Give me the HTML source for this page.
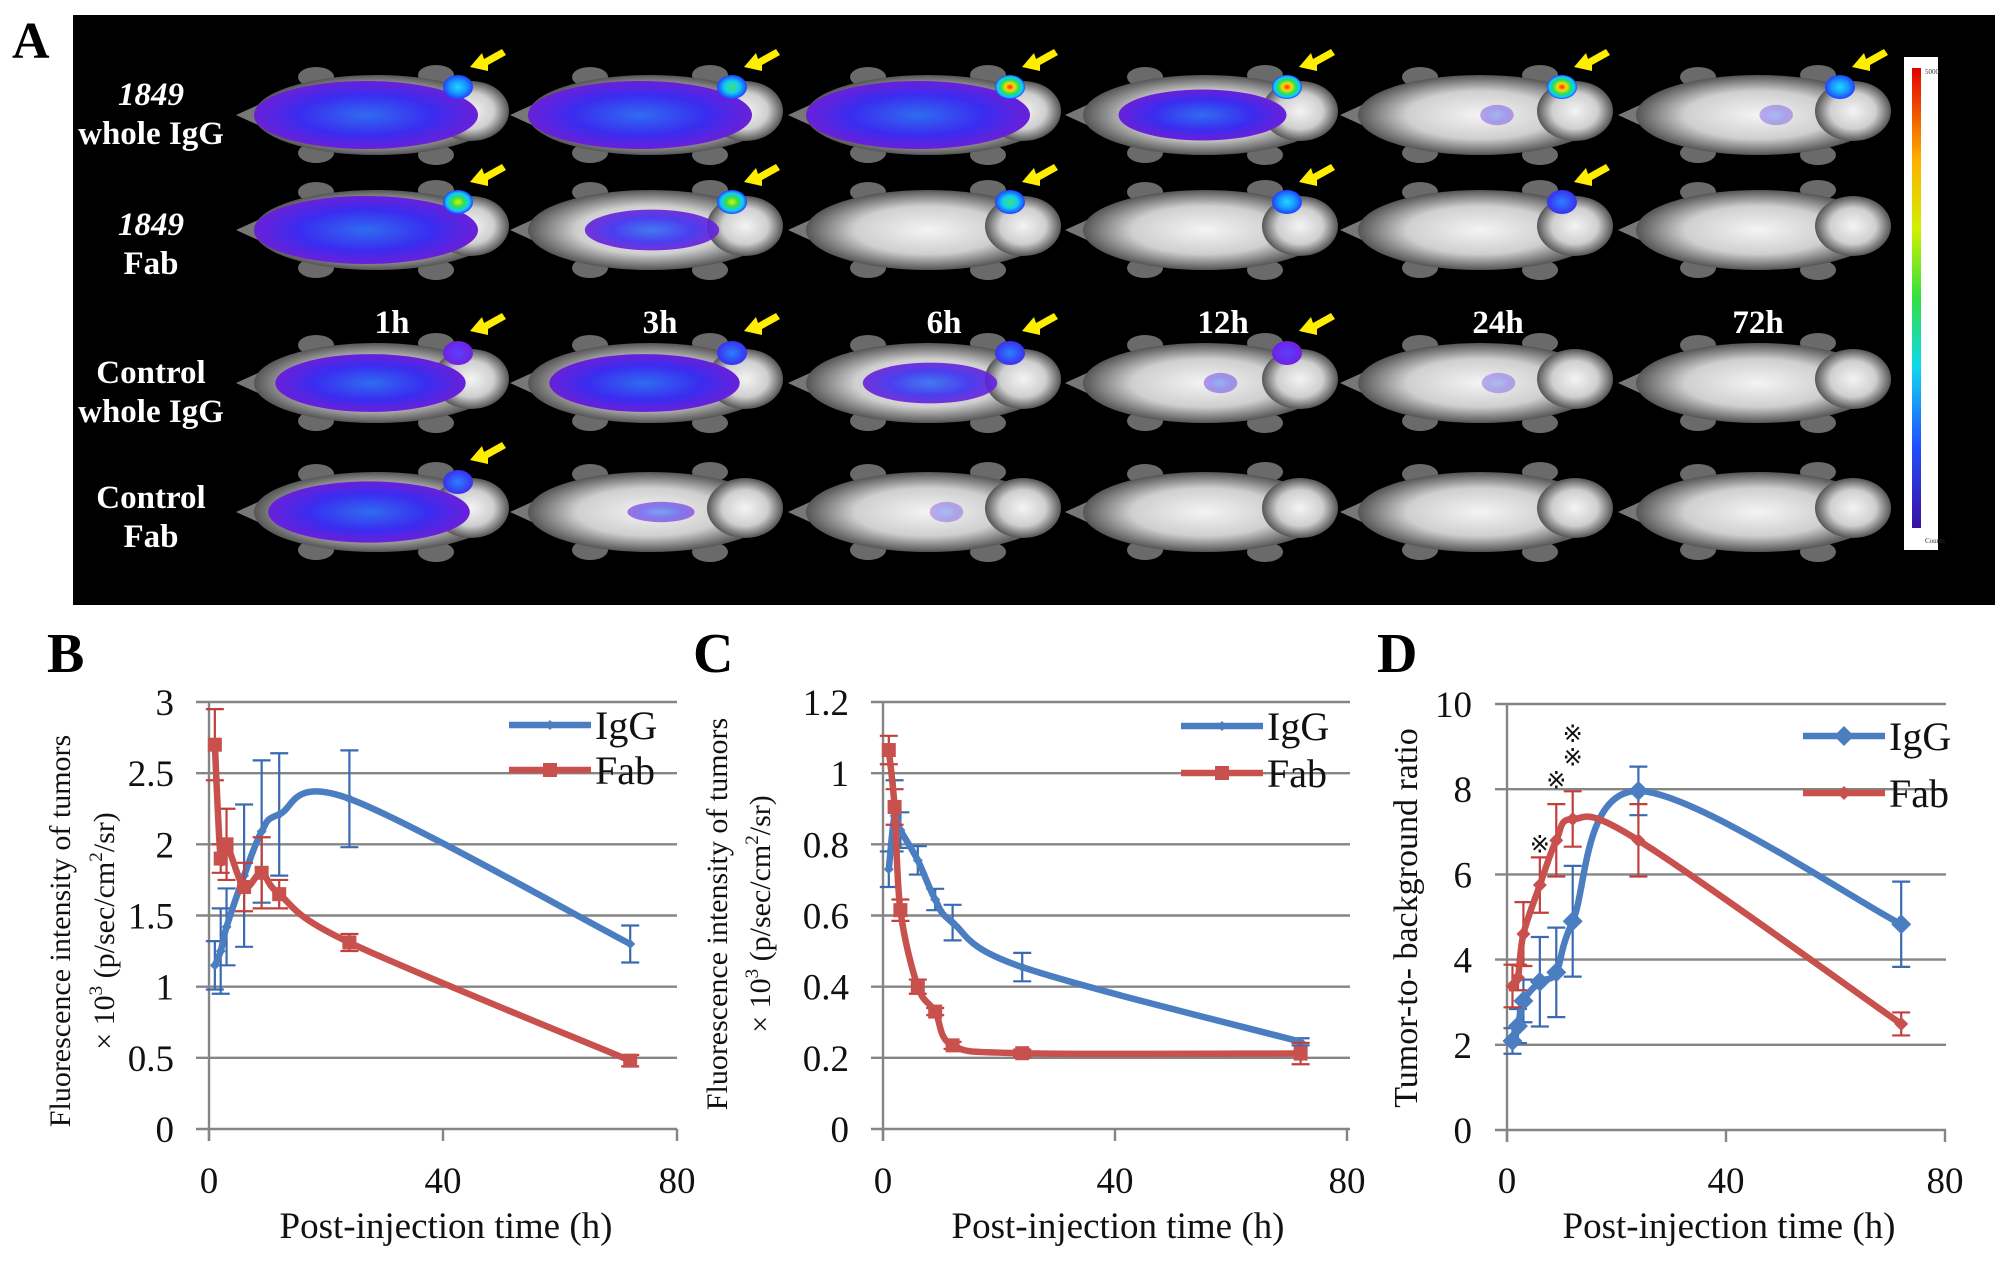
<!DOCTYPE html>
<html><head><meta charset="utf-8"><style>
html,body{margin:0;padding:0;background:#fff;}
svg{display:block;}
text{font-family:"Liberation Serif",serif;}
</style></head><body>
<svg id="fig" xmlns="http://www.w3.org/2000/svg" width="2008" height="1265" viewBox="0 0 2008 1265">
<defs>
<radialGradient id="bodyG" cx="50%" cy="50%" r="50%"><stop offset="0" stop-color="#f4f4f4"/><stop offset="0.6" stop-color="#cfcfcf"/><stop offset="1" stop-color="#555"/></radialGradient>
<radialGradient id="blueG" cx="50%" cy="50%" r="50%"><stop offset="0" stop-color="#2f6cf0"/><stop offset="0.6" stop-color="#3a2cf0"/><stop offset="1" stop-color="#6a20d8"/></radialGradient>
<radialGradient id="hotRed" cx="50%" cy="50%" r="50%"><stop offset="0" stop-color="#ff2000"/><stop offset="0.3" stop-color="#ffd800"/><stop offset="0.6" stop-color="#20e060"/><stop offset="0.85" stop-color="#10c8ff"/><stop offset="1" stop-color="#2040ff"/></radialGradient>
<radialGradient id="hotYel" cx="50%" cy="50%" r="50%"><stop offset="0" stop-color="#e8f000"/><stop offset="0.4" stop-color="#30e050"/><stop offset="0.75" stop-color="#10c8ff"/><stop offset="1" stop-color="#2040ff"/></radialGradient>
<radialGradient id="hotGrn" cx="50%" cy="50%" r="50%"><stop offset="0" stop-color="#40e070"/><stop offset="0.5" stop-color="#10d0f0"/><stop offset="1" stop-color="#2040ff"/></radialGradient>
<radialGradient id="hotCyan" cx="50%" cy="50%" r="50%"><stop offset="0" stop-color="#20d8ff"/><stop offset="0.6" stop-color="#1890ff"/><stop offset="1" stop-color="#2040ff"/></radialGradient>
<radialGradient id="hotBlue" cx="50%" cy="50%" r="50%"><stop offset="0" stop-color="#2a80ff"/><stop offset="1" stop-color="#3a30f0"/></radialGradient>
<radialGradient id="hotPurp" cx="50%" cy="50%" r="50%"><stop offset="0" stop-color="#5a40ff"/><stop offset="1" stop-color="#7020e0"/></radialGradient>
<linearGradient id="cbar" x1="0" y1="0" x2="0" y2="1"><stop offset="0" stop-color="#e00000"/><stop offset="0.2" stop-color="#ffb000"/><stop offset="0.35" stop-color="#d0f000"/><stop offset="0.5" stop-color="#30e040"/><stop offset="0.65" stop-color="#10d8f0"/><stop offset="0.82" stop-color="#2050ff"/><stop offset="1" stop-color="#3a10a0"/></linearGradient>
</defs>
<g id="panelA">
<rect x="73" y="15" width="1922" height="590" fill="#000"/>
<g id="mice"></g>
<rect x="1904" y="57" width="34" height="493" fill="#fff"/>
<rect x="1912" y="68" width="9" height="460" fill="url(#cbar)"/>
<text x="1925" y="74" font-size="7" fill="#333">5000</text>
<text x="1925" y="543" font-size="7" fill="#333">Counts</text>
<text x="12" y="58" font-size="52" font-weight="bold">A</text>
<g fill="#fff" font-weight="bold" font-size="33" text-anchor="middle">
<text x="151" y="105" font-style="italic">1849</text>
<text x="151" y="144">whole IgG</text>
<text x="151" y="235" font-style="italic">1849</text>
<text x="151" y="274">Fab</text>
<text x="151" y="383">Control</text>
<text x="151" y="422">whole IgG</text>
<text x="151" y="508">Control</text>
<text x="151" y="547">Fab</text>
<text x="392" y="333">1h</text>
<text x="660" y="333">3h</text>
<text x="944" y="333">6h</text>
<text x="1223" y="333">12h</text>
<text x="1498" y="333">24h</text>
<text x="1758" y="333">72h</text>
</g>
</g>
<g id="charts"></g>
</svg>
<script>
// ---- chart data ----
const times = [1, 2, 3, 6, 9, 12, 24, 72];
const xTicks = [0, 40, 80];
const bYTicks = [0, 0.5, 1, 1.5, 2, 2.5, 3];
const bYTickLabels = ["0", "0.5", "1", "1.5", "2", "2.5", "3"];
const bIgG = [1.15, 1.25, 1.42, 1.78, 2.09, 2.21, 2.32, 1.30];
const bIgGErr = [0.17, 0.30, 0.27, 0.50, 0.50, 0.43, 0.34, 0.13];
const bFab = [2.70, 1.90, 2.00, 1.70, 1.80, 1.65, 1.31, 0.48];
const bFabErr = [0.25, 0.10, 0.25, 0.17, 0.25, 0.10, 0.06, 0.04];
const cYTicks = [0, 0.2, 0.4, 0.6, 0.8, 1, 1.2];
const cYTickLabels = ["0", "0.2", "0.4", "0.6", "0.8", "1", "1.2"];
const cIgG = [0.73, 0.88, 0.84, 0.755, 0.645, 0.58, 0.455, 0.245];
const cIgGErr = [0.05, 0.10, 0.05, 0.04, 0.03, 0.05, 0.04, 0.01];
const cFab = [1.065, 0.905, 0.615, 0.40, 0.33, 0.235, 0.213, 0.212];
const cFabErr = [0.04, 0.05, 0.03, 0.02, 0.01, 0.01, 0.01, 0.03];
const dYTicks = [0, 2, 4, 6, 8, 10];
const dYTickLabels = ["0", "2", "4", "6", "8", "10"];
const dIgG = [2.09, 2.44, 3.03, 3.48, 3.70, 4.90, 7.96, 4.83];
const dIgGErr = [0.30, 0.40, 0.50, 1.05, 1.05, 1.30, 0.57, 1.00];
const dFab = [3.38, 3.58, 4.60, 5.75, 6.80, 7.30, 6.80, 2.49];
const dFabErr = [0.50, 0.30, 0.75, 0.65, 0.85, 0.65, 0.85, 0.27];
const seriesNames = ["IgG", "Fab"];
const dStarTimes = [6, 9, 12, 12];
const dStarValues = [6.7, 8.2, 8.75, 9.3];

const NS = "http://www.w3.org/2000/svg";
function mk(tag, attrs, parent) {
  const e = document.createElementNS(NS, tag);
  for (const k in attrs) e.setAttribute(k, attrs[k]);
  if (parent) parent.appendChild(e);
  return e;
}
const BLUE = "#4a7ec0", RED = "#c8504d", BLUE_E = "#3a6ab0", RED_E = "#c0403d";

function smoothPath(pts) {
  let d = "M" + pts[0][0] + "," + pts[0][1];
  for (let i = 0; i < pts.length - 1; i++) {
    const p0 = pts[Math.max(0, i - 1)], p1 = pts[i], p2 = pts[i + 1], p3 = pts[Math.min(pts.length - 1, i + 2)];
    const c1x = p1[0] + (p2[0] - p0[0]) / 6, c1y = p1[1] + (p2[1] - p0[1]) / 6;
    const c2x = p2[0] - (p3[0] - p1[0]) / 6, c2y = p2[1] - (p3[1] - p1[1]) / 6;
    d += " C" + c1x + "," + c1y + " " + c2x + "," + c2y + " " + p2[0] + "," + p2[1];
  }
  return d;
}

function marker(g, shape, x, y, s, color) {
  let m;
  if (shape === "square") m = mk("rect", {x: x - s / 2, y: y - s / 2, width: s, height: s, fill: color}, g);
  else m = mk("polygon", {points: `${x},${y - s / 2} ${x + s / 2},${y} ${x},${y + s / 2} ${x - s / 2},${y}`, fill: color}, g);
  return m;
}

function drawChart(cfg) {
  const root = document.getElementById("charts");
  const g = mk("g", {}, root);
  
  
  const xs = v => cfg.x0 + (v - 0) / 80 * (cfg.x1 - cfg.x0);
  const ys = v => cfg.y0 - v / cfg.yMax * (cfg.y0 - cfg.yTop);
  const tf = cfg.tickFont || "Liberation Serif, serif";
  cfg.yTicks.forEach((t, i) => {
    const gl = mk("line", {x1: cfg.gx0, x2: cfg.gx1, y1: ys(t), y2: ys(t), stroke: "#858585", "stroke-width": 2.4}, g);
    
    
    const tl = mk("text", {x: cfg.tickRight, y: ys(t) + 13, "font-size": 37, "text-anchor": "end", fill: "#111", "font-family": tf}, g);
    tl.textContent = cfg.yLabels[i];
    
    
  });
  const ax = mk("line", {x1: cfg.x0, x2: cfg.x0, y1: ys(cfg.yMax), y2: cfg.y0 + 12, stroke: "#858585", "stroke-width": 2.4}, g);
  
  
  xTicks.forEach(t => {
    const tk = mk("line", {x1: xs(t), x2: xs(t), y1: cfg.y0, y2: cfg.y0 + 12, stroke: "#858585", "stroke-width": 2.4}, g);
    
    
    const tl = mk("text", {x: xs(t), y: 1193, "font-size": 37, "text-anchor": "middle", fill: "#111", "font-family": tf}, g);
    tl.textContent = String(t);
    
    
  });
  const xt = mk("text", {x: (xs(0) + xs(80)) / 2 + 3, y: 1238, "font-size": 37, "text-anchor": "middle", fill: "#111"}, g);
  xt.textContent = "Post-injection time (h)";
  
  
  cfg.yTitle.forEach((line, i) => {
    const yt = mk("text", {x: 0, y: 0, "font-size": cfg.yTitleSize || 30, "text-anchor": "middle", fill: "#111",
      transform: `translate(${line.x},${cfg.yTitleY}) rotate(-90)`}, g);
    yt.innerHTML = line.t;
    
    
  });
  const pl = mk("text", {x: cfg.letterX, y: 672, "font-size": 56, "font-weight": "bold", fill: "#000"}, g);
  pl.textContent = cfg.letter;
  
  
  cfg.series.forEach((s, si) => {
    const sg = mk("g", {}, g);
    
    
    const pts = times.map((t, i) => [xs(t), ys(s.v[i])]);
    times.forEach((t, i) => {
      const x = xs(t), yh = ys(s.v[i] + s.e[i]), yl = ys(s.v[i] - s.e[i]);
      const eb = mk("path", {d: `M${x},${yh}V${yl}M${x - 9},${yh}H${x + 9}M${x - 9},${yl}H${x + 9}`, stroke: s.ecolor, "stroke-width": 2.2, fill: "none"}, sg);
      
      
    });
    const ln = mk("path", {d: smoothPath(pts), stroke: s.color, "stroke-width": 6.5, fill: "none", "stroke-linejoin": "round"}, sg);
    
    
    pts.forEach(p => {
      const m = marker(sg, s.shape, p[0], p[1], s.size, s.color);
      
      
    });
    const ly = cfg.legY[si];
    const lg = mk("g", {}, g);
    
    
    mk("line", {x1: cfg.legX0, x2: cfg.legX1, y1: ly, y2: ly, stroke: s.color, "stroke-width": 6.5}, lg);
    marker(lg, s.shape, (cfg.legX0 + cfg.legX1) / 2, ly, s.size, s.color);
    const lt = mk("text", {x: cfg.legX1 + 4, y: ly + 14, "font-size": 40, fill: "#111"}, lg);
    lt.textContent = seriesNames[si];
  });
  return {xs, ys, g};
}

drawChart({name: "chart-b", letter: "B", letterX: 47, x0: 209, x1: 677, gx0: 196, gx1: 677, y0: 1129, yTop: 702, yMax: 3,
  yTicks: bYTicks, yLabels: bYTickLabels, tickRight: 174, yTitleY: 931,
  yTitle: [{x: 70, t: "Fluorescence intensity of tumors"}, {x: 114, t: "× 10<tspan font-size='19' dy='-12'>3</tspan><tspan dy='12'> (p/sec/cm</tspan><tspan font-size='19' dy='-12'>2</tspan><tspan dy='12'>/sr)</tspan>"}],
  legX0: 509, legX1: 591, legY: [725, 770],
  series: [{label: "IgG", v: bIgG, e: bIgGErr, color: BLUE, ecolor: BLUE_E, shape: "diamond", size: 10},
           {label: "Fab", v: bFab, e: bFabErr, color: RED, ecolor: RED_E, shape: "square", size: 14}]});
drawChart({name: "chart-c", letter: "C", letterX: 693, x0: 883, x1: 1347, gx0: 871, gx1: 1350, y0: 1129, yTop: 702, yMax: 1.2,
  yTicks: cYTicks, yLabels: cYTickLabels, tickRight: 849, yTitleY: 914,
  yTitle: [{x: 727, t: "Fluorescence intensity of tumors"}, {x: 770, t: "× 10<tspan font-size='19' dy='-12'>3</tspan><tspan dy='12'> (p/sec/cm</tspan><tspan font-size='19' dy='-12'>2</tspan><tspan dy='12'>/sr)</tspan>"}],
  legX0: 1181, legX1: 1263, legY: [726, 773],
  series: [{label: "IgG", v: cIgG, e: cIgGErr, color: BLUE, ecolor: BLUE_E, shape: "diamond", size: 10},
           {label: "Fab", v: cFab, e: cFabErr, color: RED, ecolor: RED_E, shape: "square", size: 14}]});
const dc = drawChart({name: "chart-d", letter: "D", letterX: 1377, x0: 1507, x1: 1945, gx0: 1495, gx1: 1946, y0: 1130, yTop: 704, yMax: 10,
  yTicks: dYTicks, yLabels: dYTickLabels, tickRight: 1472, yTitleY: 918, yTitleSize: 34, tickFont: "Liberation Sans, sans-serif",
  yTitle: [{x: 1417, t: "Tumor-to- background ratio"}],
  legX0: 1803, legX1: 1885, legY: [736, 793],
  series: [{label: "IgG", v: dIgG, e: dIgGErr, color: BLUE, ecolor: BLUE_E, shape: "diamond", size: 20},
           {label: "Fab", v: dFab, e: dFabErr, color: RED, ecolor: RED_E, shape: "diamond", size: 14}]});
dStarTimes.forEach((t, i) => {
  const st = mk("text", {x: dc.xs(t), y: dc.ys(dStarValues[i]) + 8, "font-size": 24, "text-anchor": "middle", fill: "#111", "font-family": "Noto Sans CJK JP, sans-serif"}, dc.g);
  st.textContent = "※";
  
  
});

// ---- panel A mice ----
const colX = [376, 650, 928, 1205, 1480, 1758];
const rowY = [115, 230, 383, 512];
const coverage = [[1, 1, 1, 0.75, 0.1, 0.06], [1, 0.6, 0, 0, 0, 0], [0.85, 0.85, 0.6, 0.15, 0.05, 0], [0.9, 0.3, 0.05, 0, 0, 0]];
const hot = [["hotCyan", "hotGrn", "hotRed", "hotRed", "hotRed", "hotCyan"],
             ["hotYel", "hotYel", "hotGrn", "hotCyan", "hotBlue", ""],
             ["hotPurp", "hotBlue", "hotBlue", "hotPurp", "", ""],
             ["hotBlue", "", "", "", "", ""]];
const arrows = [[1, 1, 1, 1, 1, 1], [1, 1, 1, 1, 1, 0], [1, 1, 1, 1, 0, 0], [1, 0, 0, 0, 0, 0]];
const mg = document.getElementById("mice");
rowY.forEach((cy, r) => {
  colX.forEach((cx, c) => {
    const m = mk("g", {}, mg);
    
    
    [[-60, -38], [60, -40], [-60, 38], [60, 40]].forEach(o => mk("ellipse", {cx: cx + o[0], cy: cy + o[1], rx: 18, ry: 10, fill: "#6a6a6a"}, m));
    mk("polygon", {points: `${cx - 118},${cy - 10} ${cx - 140},${cy} ${cx - 118},${cy + 10}`, fill: "#777"}, m);
    mk("ellipse", {cx: cx, cy: cy, rx: 122, ry: 40, fill: "url(#bodyG)"}, m);
    mk("ellipse", {cx: cx + 95, cy: cy - 4, rx: 38, ry: 30, fill: "url(#bodyG)"}, m);
    const cov = coverage[r][c];
    if (cov > 0) {
      mk("ellipse", {cx: cx - 10 + (1 - cov) * 30, cy: cy, rx: 112 * Math.max(cov, 0.15), ry: 34 * Math.max(cov, 0.3), fill: "url(#blueG)", opacity: Math.min(1, cov + 0.3)}, m);
    }
    if (hot[r][c]) {
      const ty = r < 2 ? cy - 28 : cy - 30;
      mk("ellipse", {cx: cx + 82, cy: ty, rx: 15, ry: 12, fill: "url(#" + hot[r][c] + ")"}, m);
    }
    if (arrows[r][c]) {
      const ax = cx + 110, ay = (r < 2 ? cy - 58 : cy - 62);
      mk("polygon", {points: `${ax - 16},${ay + 10} ${ax - 4},${ay - 4} ${ax - 2},${ay + 2} ${ax + 16},${ay - 8} ${ax + 20},${ay - 2} ${ax + 2},${ay + 8} ${ax + 2},${ay + 14}`, fill: "#ffee00"}, m);
    }
  });
});
</script>
</body></html>
